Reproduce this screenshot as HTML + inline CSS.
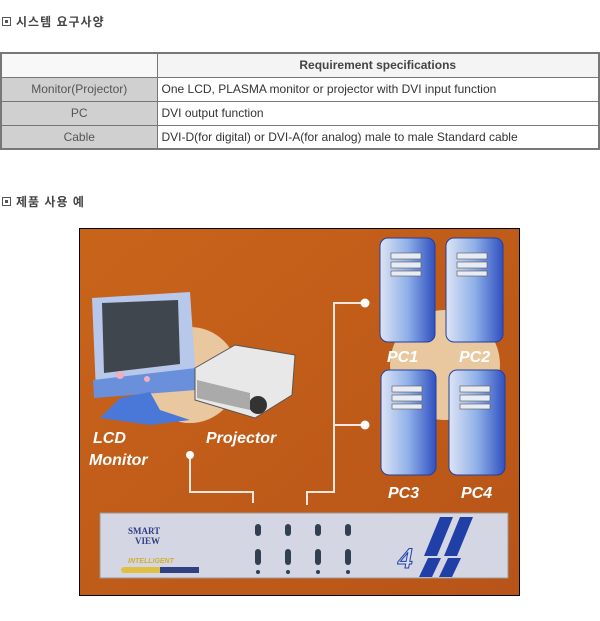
<!DOCTYPE html>
<html><head><meta charset="utf-8"><style>
body{margin:0;background:#fff;width:600px;height:621px;position:relative;font-family:"Liberation Sans","Noto Sans CJK KR",sans-serif;overflow:hidden}
.h{position:absolute;left:2px;font-size:12px;font-weight:bold;color:#444;letter-spacing:1px}
.h span{display:inline-block;width:7px;height:7px;border:1px solid #555;margin-right:5px;position:relative;top:0px}
.h span:after{content:"";position:absolute;left:2px;top:2px;width:3px;height:3px;background:#555}
table{position:absolute;left:0;top:52px;width:600px;border-collapse:collapse;border:2px solid #777;font-size:12px;color:#333;table-layout:fixed}
td{border:1px solid #777;height:24px;padding:0 4px;box-sizing:border-box;white-space:nowrap}
td.l{background:#d0d0d0;text-align:center;color:#555}
th{height:24px;border:1px solid #777;font-size:12px;color:#444;background:#f4f4f4;box-sizing:border-box}
</style></head><body>
<div class="h" style="top:13px"><span></span>시스템 요구사양</div>
<table>
<colgroup><col style="width:156px"><col></colgroup>
<tr><th style="background:#f8f8f8"></th><th>Requirement specifications</th></tr>
<tr><td class="l">Monitor(Projector)</td><td>One LCD, PLASMA monitor or projector with DVI input function</td></tr>
<tr><td class="l">PC</td><td>DVI output function</td></tr>
<tr><td class="l">Cable</td><td>DVI-D(for digital) or DVI-A(for analog) male to male Standard cable</td></tr>
</table>
<div class="h" style="top:193px"><span></span>제품 사용 예</div>
<svg style="position:absolute;left:0;top:0" width="600" height="621">
<defs>
<linearGradient id="pc" x1="0" x2="1"><stop offset="0" stop-color="#dde4f4"/><stop offset=".5" stop-color="#8fb0e8"/><stop offset="1" stop-color="#3050c0"/></linearGradient>
<linearGradient id="bg" x1="0" y1="0" x2="1" y2="1"><stop offset="0" stop-color="#c8641a"/><stop offset="1" stop-color="#b85418"/></linearGradient>
</defs>
<rect x="79.5" y="228.5" width="440" height="367" fill="url(#bg)" stroke="#000"/>
<circle cx="190" cy="375" r="48" fill="#e9c8a0"/>
<circle cx="445" cy="365" r="55" fill="#e9c8a0"/>
<path d="M92 298 L190 292 L196 380 L96 392 Z" fill="#b8c8ea"/>
<path d="M102 303 L178 300 L180 364 L104 373 Z" fill="#40464e"/>
<path d="M93 380 L196 368 L196 390 L94 398 Z" fill="#6a90dc"/>
<path d="M120 398 L150 392 L160 410 L190 420 L150 425 L100 418 Z" fill="#4a78d8"/>
<circle cx="120" cy="375" r="4" fill="#f0b0c0"/><circle cx="147" cy="379" r="3" fill="#f0b0c0"/>
<path d="M195 368 L235 345 L295 355 L292 395 L255 418 L195 400 Z" fill="#e8e8e8" stroke="#555"/>
<circle cx="258" cy="405" r="9" fill="#333"/>
<path d="M197 380 L250 393 L250 410 L197 398 Z" fill="#aaa"/>
<g font-family="Liberation Sans,sans-serif" font-weight="bold" font-style="italic" font-size="16" fill="#fff">
<text x="93" y="443">LCD</text><text x="89" y="465">Monitor</text><text x="206" y="443">Projector</text>
<text x="387" y="362">PC1</text><text x="459" y="362">PC2</text><text x="388" y="498">PC3</text><text x="461" y="498">PC4</text>
</g>
<g stroke="#f0e8e0" stroke-width="2" fill="none">
<path d="M190 455 V492 H253 V503"/>
<path d="M307 505 V492 H334 V303 H365 M334 425 H365"/>
</g>
<circle cx="190" cy="455" r="4" fill="#fff"/><circle cx="365" cy="303" r="4.5" fill="#fff"/><circle cx="365" cy="425" r="4.5" fill="#fff"/>
<g>
<rect x="380" y="238" width="55" height="104" rx="8" fill="url(#pc)" stroke="#2040a0"/>
<rect x="446" y="238" width="57" height="104" rx="8" fill="url(#pc)" stroke="#2040a0"/>
<rect x="381" y="370" width="55" height="105" rx="8" fill="url(#pc)" stroke="#2040a0"/>
<rect x="449" y="370" width="56" height="105" rx="8" fill="url(#pc)" stroke="#2040a0"/>
<g fill="#e8ecf4" stroke="#555" stroke-width=".6">
<rect x="391" y="253" width="30" height="6"/><rect x="391" y="262" width="30" height="6"/><rect x="391" y="271" width="30" height="5"/>
<rect x="457" y="253" width="30" height="6"/><rect x="457" y="262" width="30" height="6"/><rect x="457" y="271" width="30" height="5"/>
<rect x="392" y="386" width="30" height="6"/><rect x="392" y="395" width="30" height="6"/><rect x="392" y="404" width="30" height="5"/>
<rect x="460" y="386" width="30" height="6"/><rect x="460" y="395" width="30" height="6"/><rect x="460" y="404" width="30" height="5"/>
</g></g>
<rect x="100" y="513" width="408" height="65" fill="#d4d6e4" stroke="#999"/>
<text x="128" y="534" font-family="Liberation Serif,serif" font-weight="bold" font-size="9" fill="#304080">SMART</text>
<text x="135" y="544" font-family="Liberation Serif,serif" font-weight="bold" font-size="9" fill="#304080">VIEW</text>
<rect x="121" y="567" width="78" height="6" rx="3" fill="#e0c040"/><rect x="160" y="567" width="39" height="6" fill="#304080"/>
<text x="128" y="563" font-family="Liberation Sans,sans-serif" font-weight="bold" font-style="italic" font-size="7" fill="#d0b030">INTELLIGENT</text>
<g fill="#304050">
<rect x="255" y="524" width="6" height="12" rx="3"/><rect x="285" y="524" width="6" height="12" rx="3"/><rect x="315" y="524" width="6" height="12" rx="3"/><rect x="345" y="524" width="6" height="12" rx="3"/>
<rect x="255" y="549" width="6" height="16" rx="3"/><rect x="285" y="549" width="6" height="16" rx="3"/><rect x="315" y="549" width="6" height="16" rx="3"/><rect x="345" y="549" width="6" height="16" rx="3"/>
<circle cx="258" cy="572" r="2"/><circle cx="288" cy="572" r="2"/><circle cx="318" cy="572" r="2"/><circle cx="348" cy="572" r="2"/>
</g>
<g fill="#2040a8"><path d="M440 517 L453 517 L437 556 L424 556 Z"/><path d="M460 517 L473 517 L457 556 L444 556 Z"/><path d="M428 558 L441 558 L432 577 L419 577 Z"/><path d="M448 558 L461 558 L452 577 L439 577 Z"/></g>
<text x="398" y="568" font-family="Liberation Serif,serif" font-style="italic" font-weight="bold" font-size="30" fill="#d8dcf0" stroke="#2040a8">4</text>
</svg>
</body></html>
